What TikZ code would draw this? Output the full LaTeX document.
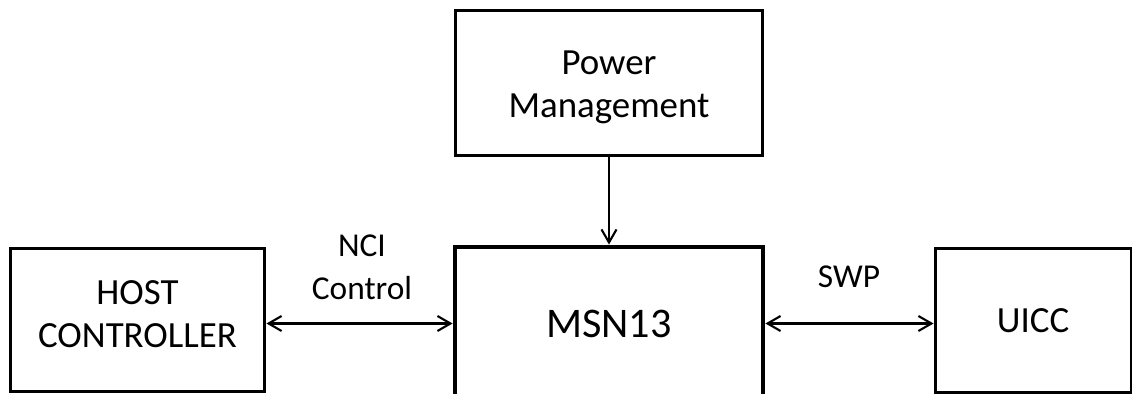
\documentclass[tikz,border=0pt]{standalone}
\usepackage{fontspec}
\setmainfont{Carlito}
\usetikzlibrary{arrows.meta}
\tikzset{blk/.style={draw, line width=1.7pt, align=center, inner sep=0pt,
  font=\fontsize{21}{24.4}\selectfont}}
\tikzset{lbl/.style={align=center, inner sep=0pt, font=\fontsize{19}{24.4}\selectfont}}
\tikzset{link/.style={line width=1.2pt, {Straight Barb[length=2.6mm,width=3mm]}-{Straight Barb[length=2.6mm,width=3mm]}}}

\begin{document}
\begin{tikzpicture}[x=0.02cm, y=-0.02cm]
      \clip (0, 0) rectangle (1132, 394);

      \node [blk, minimum width=6.16cm, minimum height=2.92cm, text height=44pt, text depth=4.3pt]
        (power) at (609, 83) {Power\\Management};
      \node [blk, line width=2.8pt, minimum width=6.16cm, minimum height=3.06cm,
        font=\fontsize{24}{28}\selectfont] (msn) at (609, 323.5) {MSN13};
      \node [blk, minimum width=5.1cm, minimum height=2.88cm, text height=37.9pt, text depth=6.2pt]
        (host) at (137.5, 320) {HOST\\CONTROLLER};
      \node [blk, minimum width=3.92cm, minimum height=2.9cm] (uicc) at (1033, 320.5) {UICC};

      \draw [line width=1.2pt, -{Straight Barb[length=2.6mm,width=3mm]}] (power) -- (msn);
      \draw [link] (host.east |- msn.west) -- (msn.west);
      \draw [link] (msn.east) -- (msn.east -| uicc.west);

      \node [lbl] (nci) at (362, 267.5) {NCI\\Control};
      \node [lbl] (swp) at (849, 277) {SWP};
    \end{tikzpicture}
\end{document}
